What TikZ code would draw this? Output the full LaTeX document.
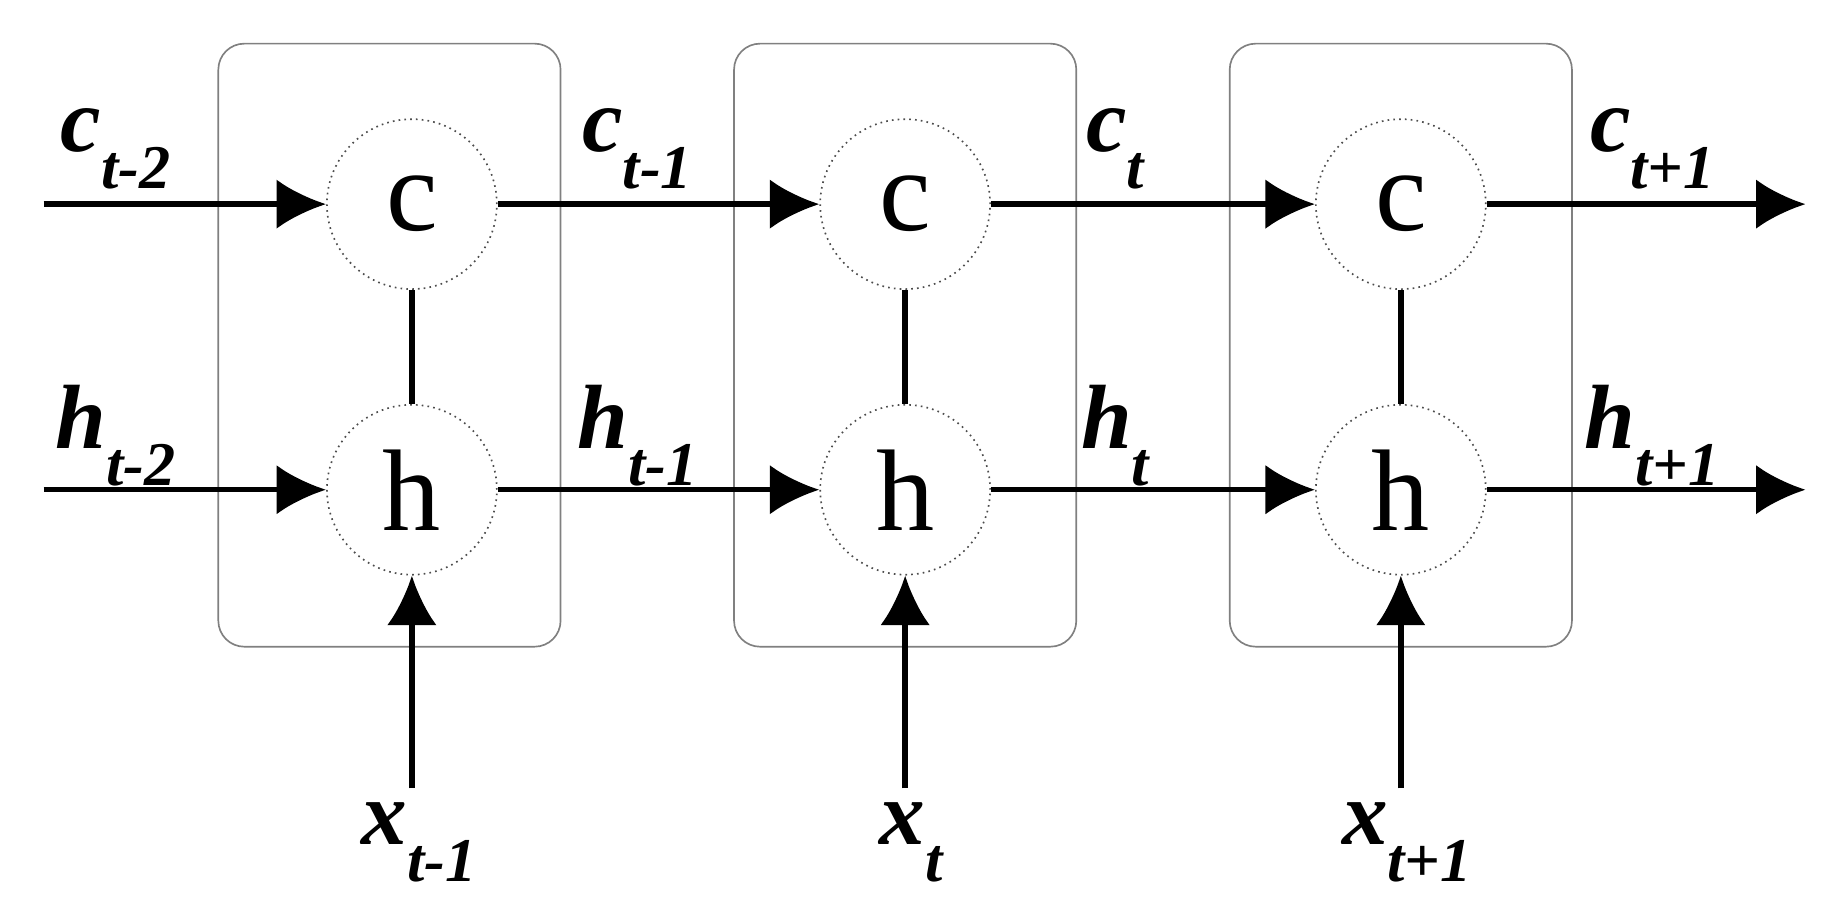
\documentclass[tikz,border=0pt]{standalone}
\usepackage{fontspec}
\newfontfamily\tnr{Liberation Serif}
\usetikzlibrary{arrows.meta}
\newcommand{\sbs}[1]{\raisebox{-0.4em}{\fontsize{15}{18}\selectfont #1}}
\begin{document}
\begin{tikzpicture}[
    cell/.style={circle, draw=black!70, densely dotted, thin, minimum size=1.44cm, inner sep=0pt, font=\tnr\fontsize{28}{32}\selectfont},
    frame/.style={draw=black!50, thin, rounded corners=0.22cm},
    flow/.style={line width=1.3pt, -{Latex[length=4.2mm,width=4.2mm]}},
    lbl/.style={font=\tnr\fontsize{22}{26}\selectfont\bfseries\itshape}]
    \useasboundingbox (0,0) rectangle (15.6,7.66);
    % frames
    \foreach \x in {1.85,6.22,10.42}
        \draw[frame] (\x,2.18) rectangle ++(2.9,5.11);
    % cells
    \node[cell] (c1) at (3.49,5.93) {c};
    \node[cell] (h1) at (3.49,3.51) {h};
    \node[cell] (c2) at (7.67,5.93) {c};
    \node[cell] (h2) at (7.67,3.51) {h};
    \node[cell] (c3) at (11.87,5.93) {c};
    \node[cell] (h3) at (11.87,3.51) {h};
    % free ends
    \coordinate (cin) at (0.37,5.93);
    \coordinate (hin) at (0.37,3.51);
    \coordinate (cout) at (15.3,5.93);
    \coordinate (hout) at (15.3,3.51);
    \coordinate (x1) at (3.49,0.98);
    \coordinate (x2) at (7.67,0.98);
    \coordinate (x3) at (11.87,0.98);
    % links
    \foreach \i in {1,2,3}
        \draw[line width=1.3pt] (c\i) -- (h\i);
    \draw[flow] (cin) -- (c1);
    \draw[flow] (c1) -- (c2);
    \draw[flow] (c2) -- (c3);
    \draw[flow] (c3) -- (cout);
    \draw[flow] (hin) -- (h1);
    \draw[flow] (h1) -- (h2);
    \draw[flow] (h2) -- (h3);
    \draw[flow] (h3) -- (hout);
    \foreach \i in {1,2,3}
        \draw[flow] (x\i) -- (h\i);
    % labels
    \node[lbl] (lc0) at (0.98,6.4) {c\sbs{t-2}};
    \node[lbl] (lc1) at (5.4,6.4) {c\sbs{t-1}};
    \node[lbl] (lc2) at (9.45,6.4) {c\sbs{t}};
    \node[lbl] (lc3) at (14.0,6.4) {c\sbs{t+1}};
    \node[lbl] (lh0) at (0.98,3.97) {h\sbs{t-2}};
    \node[lbl] (lh1) at (5.4,3.97) {h\sbs{t-1}};
    \node[lbl] (lh2) at (9.45,3.97) {h\sbs{t}};
    \node[lbl] (lh3) at (14.0,3.97) {h\sbs{t+1}};
    \node[lbl] (lx1) at (3.55,0.52) {x\sbs{t-1}};
    \node[lbl] (lx2) at (7.72,0.52) {x\sbs{t}};
    \node[lbl] (lx3) at (11.92,0.52) {x\sbs{t+1}};
\end{tikzpicture}
\end{document}
